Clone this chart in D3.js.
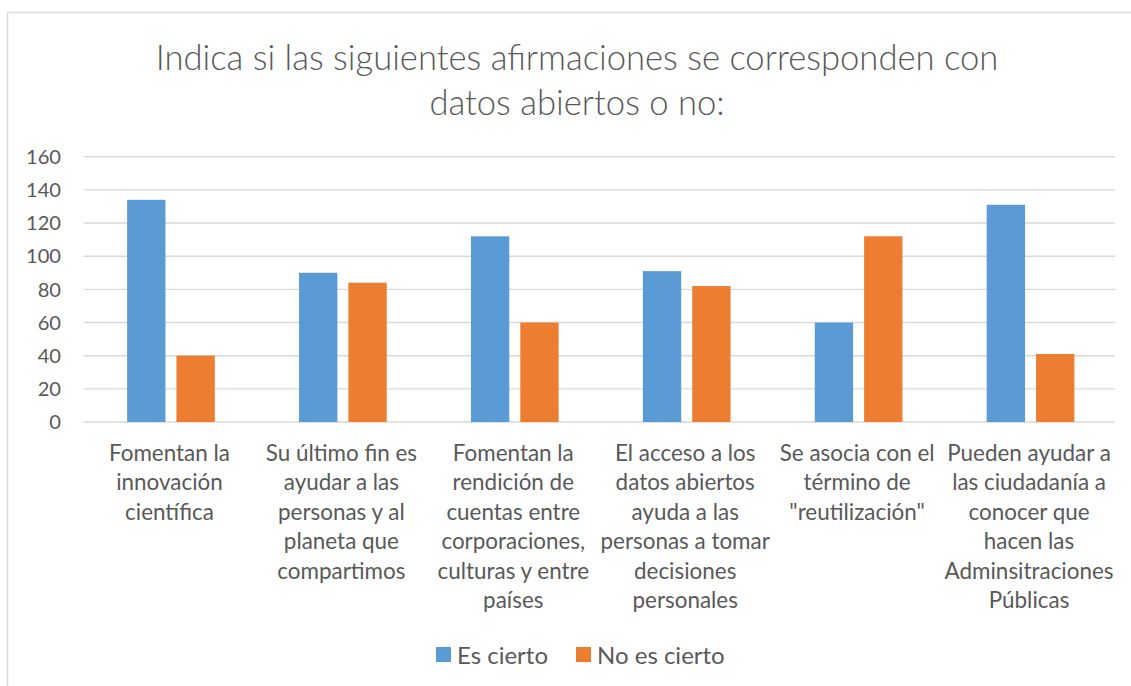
<!DOCTYPE html>
<html>
<head>
<meta charset="utf-8">
<script src="https://cdn.jsdelivr.net/npm/d3@7"></script>
<style>
  body { margin: 0; background: #fff; }
  svg { display: block; }
</style>
</head>
<body>
<svg id="chart"></svg>
<script>
// chart data
var titleLines = ["Indica si las siguientes afirmaciones se corresponden con", "datos abiertos o no:"];
var categories = ["c1", "c2", "c3", "c4", "c5", "c6"];
var categoryLabels = [
  ["Fomentan la", "innovación", "científica"],
  ["Su último fin es", "ayudar a las", "personas y al", "planeta que", "compartimos"],
  ["Fomentan la", "rendición de", "cuentas entre", "corporaciones,", "culturas y entre", "países"],
  ["El acceso a los", "datos abiertos", "ayuda a las", "personas a tomar", "decisiones", "personales"],
  ["Se asocia con el", "término de", "\"reutilización\""],
  ["Pueden ayudar a", "las ciudadanía a", "conocer que", "hacen las", "Adminsitraciones", "Públicas"]
];
var seriesNames = ["Es cierto", "No es cierto"];
var esCierto = [134, 90, 112, 91, 60, 131];
var noEsCierto = [40, 84, 60, 82, 112, 41];
var yTicks = [0, 20, 40, 60, 80, 100, 120, 140, 160];

var width = 1131, height = 686;
var font = "Lato, 'Open Sans', sans-serif";
var textColor = "#595959";
var colors = ["#5B9BD5", "#ED7D31"];

// pick a font size so that a sample string has the wanted width
var ctx = document.createElement("canvas").getContext("2d");
function fitSize(sample, target) {
  ctx.font = "100px Lato";
  return 100 * target / ctx.measureText(sample).width;
}
var titleSize = fitSize(titleLines[0], 857);
var labelSize = fitSize("Adminsitraciones", 169);
var tickSize = fitSize("160", 35);
var legendSize = fitSize("Es cierto", 91);

var svg = d3.select("#chart").attr("width", width).attr("height", height);

// outer chart border
svg.append("rect")
    .attr("x", 7.5).attr("y", 12.5)
    .attr("width", width + 20).attr("height", height + 20)
    .attr("fill", "none")
    .attr("stroke", "#d9d9d9")
    .attr("stroke-width", 1.5);

// title
svg.append("text")
    .attr("text-anchor", "middle")
    .attr("font-family", font)
    .attr("font-weight", 300)
    .attr("font-size", titleSize)
    .attr("fill", textColor)
    .selectAll("tspan")
    .data(titleLines)
    .enter().append("tspan")
    .attr("x", 577)
    .attr("y", function (d, i) { return 70 + i * 45; })
    .text(function (d) { return d; });

var plot = { left: 83.5, right: 1115, top: 156.7, bottom: 422 };

var x0 = d3.scaleBand()
    .domain(categories)
    .range([plot.left, plot.right])
    .paddingInner(0.49)
    .paddingOuter(0.245);

var x1 = d3.scaleBand()
    .domain(seriesNames)
    .range([0, x0.bandwidth()])
    .paddingInner(0.223);

var y = d3.scaleLinear()
    .domain([0, 160])
    .range([plot.bottom, plot.top]);

// gridlines
svg.append("g")
    .selectAll("line")
    .data(yTicks)
    .enter().append("line")
    .attr("x1", plot.left).attr("x2", plot.right)
    .attr("y1", function (d) { return y(d); })
    .attr("y2", function (d) { return y(d); })
    .attr("stroke", "#d9d9d9")
    .attr("stroke-width", 1.4);

// y labels
svg.append("g")
    .selectAll("text")
    .data(yTicks)
    .enter().append("text")
    .attr("x", 61)
    .attr("y", function (d) { return y(d); })
    .attr("dy", "0.36em")
    .attr("text-anchor", "end")
    .attr("font-family", font)
    .attr("font-size", tickSize)
    .attr("fill", textColor)
    .text(function (d) { return d; });

// bars
var rows = categories.map(function (c, i) {
  return { cat: c, values: [esCierto[i], noEsCierto[i]] };
});

var groups = svg.append("g")
    .selectAll("g")
    .data(rows)
    .enter().append("g")
    .attr("transform", function (d) { return "translate(" + (x0(d.cat) + 1.5) + ",0)"; });

groups.selectAll("rect")
    .data(function (d) { return d.values.map(function (v, j) { return { s: seriesNames[j], v: v, j: j }; }); })
    .enter().append("rect")
    .attr("x", function (d) { return x1(d.s); })
    .attr("width", x1.bandwidth())
    .attr("y", function (d) { return y(d.v); })
    .attr("height", function (d) { return y(0) - y(d.v); })
    .attr("fill", function (d) { return colors[d.j]; });

// category labels
svg.append("g")
    .selectAll("text")
    .data(categories)
    .enter().append("text")
    .attr("text-anchor", "middle")
    .attr("font-family", font)
    .attr("font-size", labelSize)
    .attr("fill", textColor)
    .each(function (c, i) {
      var cx = x0(c) + x0.bandwidth() / 2;
      d3.select(this).selectAll("tspan")
          .data(categoryLabels[i])
          .enter().append("tspan")
          .attr("x", cx)
          .attr("y", function (d, k) { return 461 + k * 29.4; })
          .text(function (d) { return d; });
    });

// legend
var legendItems = [{ name: seriesNames[0], x: 436 }, { name: seriesNames[1], x: 576 }];
var leg = svg.append("g")
    .selectAll("g")
    .data(legendItems)
    .enter().append("g");
leg.append("rect")
    .attr("x", function (d) { return d.x; })
    .attr("y", 647)
    .attr("width", 15).attr("height", 15)
    .attr("fill", function (d, i) { return colors[i]; });
leg.append("text")
    .attr("x", function (d) { return d.x + 21; })
    .attr("y", 664)
    .attr("font-family", font)
    .attr("font-size", legendSize)
    .attr("fill", textColor)
    .text(function (d) { return d.name; });
</script>
</body>
</html>
